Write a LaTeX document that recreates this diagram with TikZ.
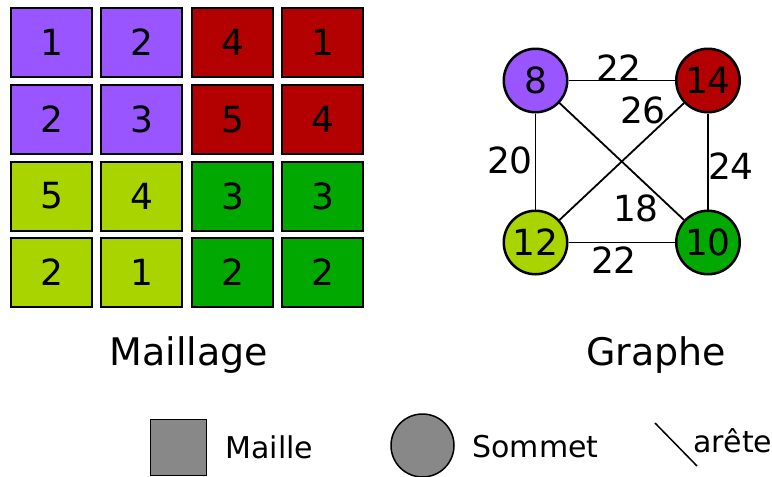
\documentclass[tikz,border=0pt]{standalone}
\usepackage{fontspec}
\setmainfont{DejaVu Sans}
\usepackage{xcolor}
\usepackage{tikz}

\definecolor{mauve}{HTML}{9955FF}
\definecolor{rouge}{HTML}{B30000}
\definecolor{jaune}{HTML}{AAD400}
\definecolor{vert}{HTML}{00A800}
\definecolor{gris}{HTML}{888888}

\begin{document}
\begin{tikzpicture}[
	x=1pt,y=-1pt,
	maille/.style={rectangle,draw=black,line width=2pt,minimum width=81pt,minimum height=69pt,inner sep=0pt,font=\fontsize{36}{36}\selectfont},
	sommet/.style={circle,draw=black,line width=2.5pt,minimum size=63.5pt,inner sep=0pt,font=\fontsize{36}{36}\selectfont},
	poids/.style={font=\fontsize{36}{36}\selectfont},
	arete/.style={line width=1.8pt}
]
	\useasboundingbox (0,0) rectangle (772,477);

	% maillage
	\node[maille,fill=mauve] (m11) at (51.5,42.5) {1};
	\node[maille,fill=mauve] (m12) at (141.5,42.5) {2};
	\node[maille,fill=rouge] (m13) at (232.5,42.5) {4};
	\node[maille,fill=rouge] (m14) at (322.5,42.5) {1};
	\node[maille,fill=mauve] (m21) at (51.5,119.5) {2};
	\node[maille,fill=mauve] (m22) at (141.5,119.5) {3};
	\node[maille,fill=rouge] (m23) at (232.5,119.5) {5};
	\node[maille,fill=rouge] (m24) at (322.5,119.5) {4};
	\node[maille,fill=jaune] (m31) at (51.5,196) {5};
	\node[maille,fill=jaune] (m32) at (141.5,196) {4};
	\node[maille,fill=vert] (m33) at (232.5,196) {3};
	\node[maille,fill=vert] (m34) at (322.5,196) {3};
	\node[maille,fill=jaune] (m41) at (51.5,272.5) {2};
	\node[maille,fill=jaune] (m42) at (141.5,272.5) {1};
	\node[maille,fill=vert] (m43) at (232.5,272.5) {2};
	\node[maille,fill=vert] (m44) at (322.5,272.5) {2};
	\node[font=\fontsize{38}{38}\selectfont] (titremaillage) at (189,355) {Maillage};

	% graphe
	\node[sommet,fill=mauve] (s8) at (535.5,80.5) {8};
	\node[sommet,fill=rouge] (s14) at (708,80.5) {14};
	\node[sommet,fill=jaune] (s12) at (535.5,242.5) {12};
	\node[sommet,fill=vert] (s10) at (708,242.5) {10};
	\draw[arete] (s8) -- (s14);
	\draw[arete] (s8) -- (s12);
	\draw[arete] (s14) -- (s10);
	\draw[arete] (s12) -- (s10);
	\draw[arete] (s8) -- (s10);
	\draw[arete] (s14) -- (s12);
	\node[poids] (p1) at (619,68) {22};
	\node[poids] (p2) at (643,110) {26};
	\node[poids] (p3) at (510,160) {20};
	\node[poids] (p4) at (731,166) {24};
	\node[poids] (p5) at (636,208) {18};
	\node[poids] (p6) at (614,260) {22};
	\node[font=\fontsize{38}{38}\selectfont] (titregraphe) at (656,355) {Graphe};

	% legende
	\node[rectangle,draw=black,line width=1pt,fill=gris,minimum width=56pt,minimum height=56pt,inner sep=0pt] (lmaille) at (178.5,447) {};
	\node[font=\fontsize{30}{30}\selectfont,anchor=west] (tmaille) at (222,447) {Maille};
	\node[circle,draw=black,line width=1.5pt,fill=gris,minimum size=63pt,inner sep=0pt] (lsommet) at (422.5,445.5) {};
	\node[font=\fontsize{30}{30}\selectfont,anchor=west] (tsommet) at (469,447) {Sommet};
	\coordinate (a1) at (655,423);
	\coordinate (a2) at (697,466);
	\draw[line width=1.5pt] (a1) -- (a2);
	\node[font=\fontsize{30}{30}\selectfont,anchor=west] (tarete) at (690,441) {arête};
\end{tikzpicture}
\end{document}
